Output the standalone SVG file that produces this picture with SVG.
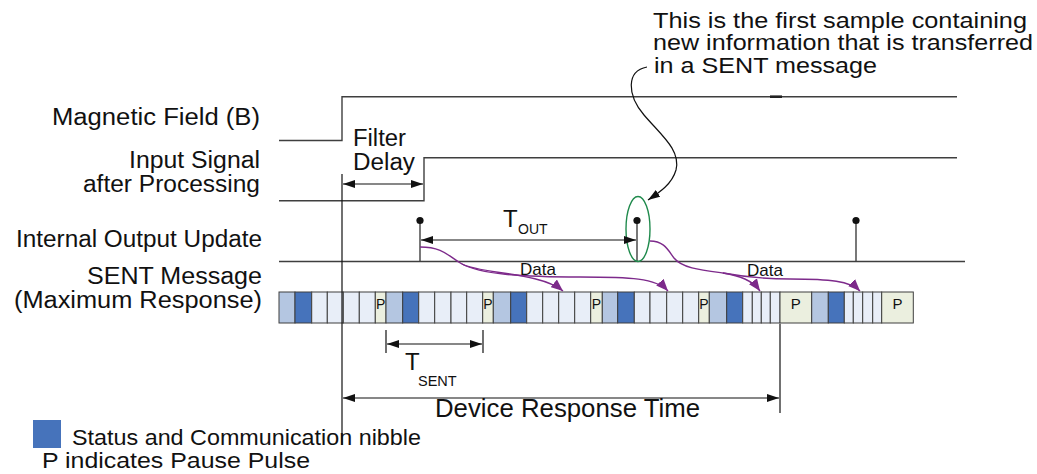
<svg xmlns="http://www.w3.org/2000/svg" width="1037" height="474" viewBox="0 0 1037 474">
<defs>
<style>
text{font-family:"Liberation Sans",Arial,sans-serif;fill:#111}
.lbl{font-size:23.5px}
.nt{font-size:22.5px}
.ln{stroke:#3f3f3f;stroke-width:1.4;fill:none}
.dim{stroke:#111;stroke-width:1.2;fill:none}
.pur{stroke:#7d2a8b;stroke-width:1.4;fill:none}
.c rect{stroke:#3f3f3f;stroke-width:1}
.lb{fill:#b4c6e1}.db{fill:#4673bb}.pa{fill:#e8eef8}.pp{fill:#ebefdf}
.pt{font-size:14px;text-anchor:middle}
</style>
<marker id="ah" viewBox="0 0 12 8" refX="12" refY="4" markerWidth="12" markerHeight="8" markerUnits="userSpaceOnUse" orient="auto-start-reverse"><path d="M0,0L12,4L0,8z" fill="#111"/></marker>
<marker id="ap" viewBox="0 0 12 10" refX="12" refY="5" markerWidth="12" markerHeight="10" markerUnits="userSpaceOnUse" orient="auto"><path d="M0,0L12,5L0,10z" fill="#7d2a8b"/></marker>
</defs>

<g id="labels">
<text class="lbl" x="52" y="125" textLength="208" lengthAdjust="spacingAndGlyphs">Magnetic Field (B)</text>
<text class="lbl" x="129" y="168" textLength="131" lengthAdjust="spacingAndGlyphs">Input Signal</text>
<text class="lbl" x="83" y="192" textLength="177" lengthAdjust="spacingAndGlyphs">after Processing</text>
<text class="lbl" x="16" y="247" textLength="246" lengthAdjust="spacingAndGlyphs">Internal Output Update</text>
<text class="lbl" x="87" y="283.5" textLength="175" lengthAdjust="spacingAndGlyphs">SENT Message</text>
<text class="lbl" x="14" y="307.5" textLength="248" lengthAdjust="spacingAndGlyphs">(Maximum Response)</text>
</g>

<g id="note">
<text class="nt" x="653" y="27.5" textLength="374" lengthAdjust="spacingAndGlyphs">This is the first sample containing</text>
<text class="nt" x="653" y="50.3" textLength="380" lengthAdjust="spacingAndGlyphs">new information that is transferred</text>
<text class="nt" x="654" y="73" textLength="223" lengthAdjust="spacingAndGlyphs">in a SENT message</text>
</g>

<g id="magnetic-field">
<path class="ln" d="M279,140.5H342V96.7H957"/>
<line x1="770" y1="96.7" x2="782" y2="96.7" stroke="#222" stroke-width="2.6"/>
</g>
<g id="input-signal">
<path class="ln" d="M279,200.7H424V157.7H957"/>
</g>
<g id="internal-output">
<line class="ln" x1="279" y1="261.5" x2="965" y2="261.5"/>
<line class="ln" x1="420" y1="220.5" x2="420" y2="261.5"/>
<line class="ln" x1="637" y1="220.5" x2="637" y2="261.5"/>
<line class="ln" x1="856" y1="220.5" x2="856" y2="261.5"/>
<circle cx="420" cy="220.5" r="3.6" fill="#111"/>
<circle cx="637" cy="220.5" r="3.6" fill="#111"/>
<circle cx="856" cy="220.5" r="3.6" fill="#111"/>
<ellipse cx="638" cy="229" rx="12" ry="32.5" fill="none" stroke="#1f8a4c" stroke-width="1.4"/>
</g>

<g id="sent-message" class="c">
<rect class="lb" x="279" y="292" width="16" height="31"/>
<rect class="db" x="295" y="292" width="16.7" height="31"/>
<rect class="pa" x="311.7" y="292" width="15.6" height="31"/>
<rect class="pa" x="327.3" y="292" width="16" height="31"/>
<rect class="pa" x="343.3" y="292" width="16" height="31"/>
<rect class="pa" x="359.3" y="292" width="16" height="31"/>
<rect class="pp" x="375.3" y="292" width="10.7" height="31"/>
<rect class="lb" x="386" y="292" width="16.7" height="31"/>
<rect class="db" x="402.7" y="292" width="16" height="31"/>
<rect class="pa" x="418.7" y="292" width="16" height="31"/>
<rect class="pa" x="434.7" y="292" width="16.3" height="31"/>
<rect class="pa" x="451" y="292" width="15.7" height="31"/>
<rect class="pa" x="466.7" y="292" width="16" height="31"/>
<rect class="pp" x="482.7" y="292" width="10.6" height="31"/>
<rect class="lb" x="493.3" y="292" width="17.4" height="31"/>
<rect class="db" x="510.7" y="292" width="16" height="31"/>
<rect class="pa" x="526.7" y="292" width="16" height="31"/>
<rect class="pa" x="542.7" y="292" width="16" height="31"/>
<rect class="pa" x="558.7" y="292" width="16" height="31"/>
<rect class="pa" x="574.7" y="292" width="16" height="31"/>
<rect class="pp" x="590.7" y="292" width="11.6" height="31"/>
<rect class="lb" x="602.3" y="292" width="15.4" height="31"/>
<rect class="db" x="617.7" y="292" width="16.6" height="31"/>
<rect class="pa" x="634.3" y="292" width="15.7" height="31"/>
<rect class="pa" x="650" y="292" width="16.7" height="31"/>
<rect class="pa" x="666.7" y="292" width="16" height="31"/>
<rect class="pa" x="682.7" y="292" width="16" height="31"/>
<rect class="pp" x="698.7" y="292" width="10.6" height="31"/>
<rect class="lb" x="709.3" y="292" width="17.4" height="31"/>
<rect class="db" x="726.7" y="292" width="16" height="31"/>
<rect class="pa" x="742.7" y="292" width="9.6" height="31"/>
<rect class="pa" x="752.3" y="292" width="9" height="31"/>
<rect class="pa" x="761.3" y="292" width="9" height="31"/>
<rect class="pa" x="770.3" y="292" width="9.7" height="31"/>
<rect class="pp" x="780" y="292" width="31.7" height="31"/>
<rect class="lb" x="811.7" y="292" width="16.6" height="31"/>
<rect class="db" x="828.3" y="292" width="16" height="31"/>
<rect class="pa" x="844.3" y="292" width="9" height="31"/>
<rect class="pa" x="853.3" y="292" width="9.4" height="31"/>
<rect class="pa" x="862.7" y="292" width="10" height="31"/>
<rect class="pa" x="872.7" y="292" width="9" height="31"/>
<rect class="pp" x="881.7" y="292" width="31.6" height="31"/>
<text class="pt" x="380.6" y="308.5">P</text>
<text class="pt" x="488" y="308.5">P</text>
<text class="pt" x="596.5" y="308.5">P</text>
<text class="pt" x="704" y="308.5">P</text>
<text class="pt" x="795.8" y="309" style="font-size:15px">P</text>
<text class="pt" x="897.5" y="309" style="font-size:15px">P</text>
</g>

<g id="connectors">
<line class="dim" x1="342" y1="174" x2="342" y2="445"/>
<line class="dim" x1="780" y1="324" x2="780" y2="413"/>
<line class="dim" x1="343" y1="184" x2="423" y2="184" marker-start="url(#ah)" marker-end="url(#ah)"/>
<line class="dim" x1="421" y1="240" x2="636" y2="240" marker-start="url(#ah)" marker-end="url(#ah)"/>
<line class="dim" x1="386" y1="330" x2="386" y2="353"/>
<line class="dim" x1="483" y1="330" x2="483" y2="353"/>
<line class="dim" x1="387" y1="344" x2="482" y2="344" marker-start="url(#ah)" marker-end="url(#ah)"/>
<line class="dim" x1="343" y1="398" x2="779" y2="398" marker-start="url(#ah)" marker-end="url(#ah)"/>
<path class="dim" d="M647,67 C626,71 627,95 644,115 C661,135 681,150 676,170 C672,184 660,192 648,200" marker-end="url(#ah)"/>
<path class="pur" d="M420,247 C444,247 449,257 462,264 C480,274 540,272 563,291" marker-end="url(#ap)"/>
<path class="pur" d="M462,264 C480,274 520,277 580,277 C630,277 656,278 668,291" marker-end="url(#ap)"/>
<path class="pur" d="M650,241 C664,241 668,250 674,258 C682,268 700,270 723,273 C740,276 752,280 760,291" marker-end="url(#ap)"/>
<path class="pur" d="M723,273 C745,277 765,279 790,279 C830,279 850,281 860,291" marker-end="url(#ap)"/>
</g>

<g id="dim-labels">
<text class="lbl" x="353" y="146" textLength="53" lengthAdjust="spacingAndGlyphs">Filter</text>
<text class="lbl" x="353" y="170" textLength="62" lengthAdjust="spacingAndGlyphs">Delay</text>
<text style="font-size:24px" x="503" y="227">T</text>
<text x="518" y="234" style="font-size:14px">OUT</text>
<text style="font-size:17px" x="520" y="275">Data</text>
<text style="font-size:17px" x="747" y="276">Data</text>
<text style="font-size:24px" x="405" y="370">T</text>
<text x="418" y="386" style="font-size:14.5px">SENT</text>
<text x="435" y="417" style="font-size:25px" textLength="265" lengthAdjust="spacingAndGlyphs">Device Response Time</text>
</g>

<g id="legend">
<rect x="33" y="420" width="28" height="28" fill="#4673bb"/>
<text x="72" y="445" style="font-size:22.5px" textLength="349" lengthAdjust="spacingAndGlyphs">Status and Communication nibble</text>
<text x="42" y="468" style="font-size:22.5px" textLength="268" lengthAdjust="spacingAndGlyphs">P indicates Pause Pulse</text>
</g>
</svg>
